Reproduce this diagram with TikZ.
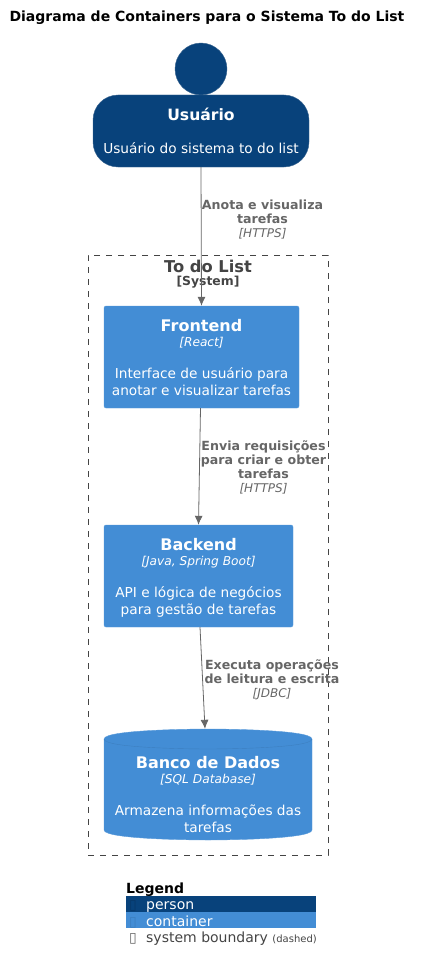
\documentclass[tikz,border=0pt]{standalone}
\usepackage{fontspec}
\setmainfont{DejaVu Sans}
\usetikzlibrary{arrows.meta}
\definecolor{personblue}{HTML}{08427B}
\definecolor{personline}{HTML}{3C6690}
\definecolor{containerblue}{HTML}{438DD5}
\definecolor{containerline}{HTML}{3C7FC0}
\definecolor{containeredge}{HTML}{5A9BDA}
\definecolor{relgray}{HTML}{666666}
\definecolor{boundgray}{HTML}{444444}
\tikzset{
    container/.style={draw=containeredge, fill=containerblue, rounded corners=2pt, inner sep=0pt},
    boxtext/.style={text=white, align=center, inner sep=0pt, font=\fontsize{13.7}{16.5}\selectfont},
    person/.style={draw=personline, fill=personblue, rounded corners=25pt, text=white, align=center, inner sep=0pt},
    rel/.style={draw=relgray, -{Latex[length=9pt, width=8pt]}, line width=0.8pt},
    rellabel/.style={text=relgray, align=center, inner sep=0pt, font=\bfseries\fontsize{12.6}{14}\selectfont},
    legendrow/.style={anchor=base west, inner sep=0pt, font=\fontsize{14}{16}\selectfont},
}
\newcommand{\boxtitle}[1]{{\bfseries\fontsize{16}{19}\selectfont #1}}
\newcommand{\boxtech}[1]{{\itshape\fontsize{12.2}{15}\selectfont [#1]}}
\newcommand{\reltech}[1]{{\mdseries\itshape\fontsize{12}{14}\selectfont [#1]}}
\begin{document}
\begin{tikzpicture}[x=1pt, y=-1pt]
    \useasboundingbox (0, 0) rectangle (421, 971);
    \node[inner sep=0pt, font=\bfseries\fontsize{14}{16}\selectfont] (title) at (207, 18) {Diagrama de Containers para o Sistema To do List};

    \node[draw=boundgray, dash pattern=on 6pt off 6pt, line width=0.7pt, minimum width=240pt, minimum height=600pt, inner sep=0pt] (system) at (208, 555) {};
    \node[text=boundgray, align=center, inner sep=0pt, font=\bfseries\fontsize{16.3}{16}\selectfont] (systemname) at (208, 266) {To do List};
    \node[text=boundgray, inner sep=0pt, font=\bfseries\fontsize{12.4}{14}\selectfont] (systemkind) at (208, 282.5) {[System]};

    \filldraw[draw=personline, fill=personblue] (201, 69) circle (26) node (head) {};
    \node[person, minimum width=216pt, minimum height=72pt] (user) at (201, 131) {};
    \node[text=white, inner sep=0pt, font=\bfseries\fontsize{15.6}{16}\selectfont] (username) at (201, 114) {Usuário};
    \node[text=white, inner sep=0pt, font=\fontsize{13.7}{16}\selectfont] (userdesc) at (201, 148) {Usuário do sistema to do list};

    \node[container, minimum width=195pt, minimum height=102pt] (frontend) at (201.5, 357) {};
    \node[boxtext] (frontendtext) at (201.5, 357.4) {\boxtitle{Frontend}\\[-2pt]\boxtech{React}\\[16pt]Interface de usuário para\\anotar e visualizar tarefas};
    \node[container, minimum width=189pt, minimum height=102pt] (backend) at (198.5, 576) {};
    \node[boxtext] (backendtext) at (198.5, 577.8) {\boxtitle{Backend}\\[-2pt]\boxtech{Java, Spring Boot}\\[16pt]API e lógica de negócios\\para gestão de tarefas};

    \filldraw[draw=containeredge, fill=containerblue] (104, 739) .. controls (104, 729) and (208, 729) .. (208, 729) .. controls (208, 729) and (312, 729) .. (312, 739) -- (312, 830) .. controls (312, 840) and (208, 840) .. (208, 840) .. controls (208, 840) and (104, 840) .. (104, 830) -- cycle;
    \draw[containerline] (104, 739) .. controls (104, 749) and (208, 749) .. (208, 749) .. controls (208, 749) and (312, 749) .. (312, 739);
    \node[minimum width=208pt, minimum height=111pt, inner sep=0pt] (database) at (208, 784.5) {};
    \node[boxtext] (databasetext) at (208, 794.3) {\boxtitle{Banco de Dados}\\[-2pt]\boxtech{SQL Database}\\[16pt]Armazena informações das\\tarefas};

    \draw[rel] (user.south) -- (frontend.north);
    \draw[rel] ([xshift=-1pt]frontend.south) -- (backend.north);
    \draw[rel] ([xshift=1.5pt]backend.south) -- ([xshift=-3pt]database.north);

    \node[rellabel] (rel1) at (262.5, 219.5) {Anota e visualiza\\tarefas\\\reltech{HTTPS}};
    \node[rellabel] (rel2) at (263.5, 467.5) {Envia requisições\\para criar e obter\\tarefas\\\reltech{HTTPS}};
    \node[rellabel] (rel3) at (272, 679.5) {Executa operações\\de leitura e escrita\\\reltech{JDBC}};

    \node[anchor=base west, inner sep=0pt, font=\bfseries\fontsize{14}{16}\selectfont] (legend) at (126, 893) {Legend};
    \node[fill=personblue, minimum width=190pt, minimum height=16pt, inner sep=0pt] (rowperson) at (221, 904) {};
    \node[fill=containerblue, minimum width=190pt, minimum height=16.5pt, inner sep=0pt] (rowcontainer) at (221, 920.2) {};
    \node[legendrow, text=white] (personlabel) at (146, 909) {person};
    \node[legendrow, text=white] (containerlabel) at (146, 926) {container};
    \node[legendrow, text=boundgray] (boundlabel) at (146, 942) {system boundary {\fontsize{10}{12}\selectfont (dashed)}};
    \node[legendrow, text=personblue!85!black] (personmark) at (129, 909) {▯};
    \node[legendrow, text=containerline] (containermark) at (129, 926) {▯};
    \node[legendrow, text=relgray] (boundmark) at (129, 942) {▯};
\end{tikzpicture}
\end{document}
